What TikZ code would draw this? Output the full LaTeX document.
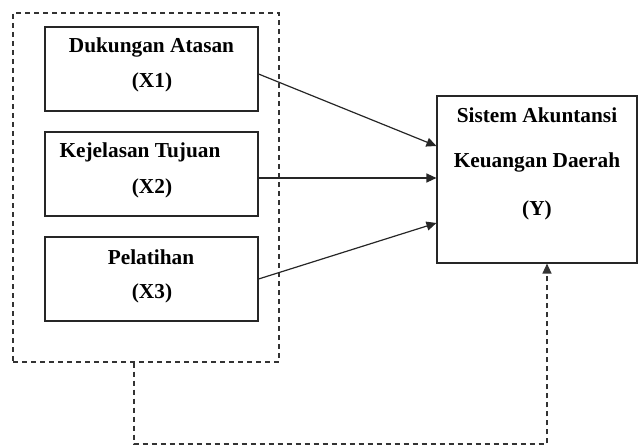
\documentclass[tikz,border=0pt]{standalone}
\usepackage{fontspec}
\setmainfont{Liberation Serif}
\usetikzlibrary{arrows.meta}
\begin{document}
\begin{tikzpicture}[x=1pt,y=-1pt,
  box/.style={draw=black!85, line width=1.1pt, minimum width=213pt, minimum height=84pt, inner sep=0pt},
  ybox/.style={draw=black!85, line width=1.1pt, minimum width=200pt, minimum height=167pt, inner sep=0pt},
  lbl/.style={font=\fontsize{21.3}{25}\selectfont\bfseries, inner sep=0pt, anchor=center},
  conn/.style={draw=black!85, line width=1.2pt, -{Triangle[length=10pt,width=9pt]}},
  dashline/.style={draw=black!80, line width=1.3pt, dash pattern=on 5pt off 4pt}]
\useasboundingbox (0,0) rectangle (638,447);
\node[draw=black!80, line width=1.3pt, dash pattern=on 5pt off 4pt, minimum width=266pt, minimum height=349pt, inner sep=0pt] (grp) at (146,187.5) {};
\node[box] (x1) at (151.5,69) {};
\node[box] (x2) at (151.5,174) {};
\node[box] (x3) at (151.5,279) {};
\node[ybox] (y) at (537,179.5) {};
\node[lbl] (t1a) at (151.5,47) {Dukungan Atasan};
\node[lbl] (t1b) at (152,82) {(X1)};
\node[lbl] (t2a) at (140,152) {Kejelasan Tujuan};
\node[lbl] (t2b) at (152,188) {(X2)};
\node[lbl] (t3a) at (151,257) {Pelatihan};
\node[lbl] (t3b) at (152,293) {(X3)};
\node[lbl] (ya) at (537,115) {Sistem Akuntansi};
\node[lbl] (yb) at (537,162) {Keuangan Daerah};
\node[lbl] (yc) at (537,210) {(Y)};
\draw[conn] (x1.east |- 0,74) -- (y.west |- 0,146);
\draw[conn] (x2.east |- 0,178) -- (y.west |- 0,178);
\draw[conn] (x3.east |- 0,279) -- (y.west |- 0,223);
\coordinate (c1) at (134,444);
\draw[dashline, -{Triangle[length=10pt,width=9pt]}] (c1 |- grp.south) -- (c1) -| ([xshift=10pt]y.south);
\end{tikzpicture}
\end{document}
